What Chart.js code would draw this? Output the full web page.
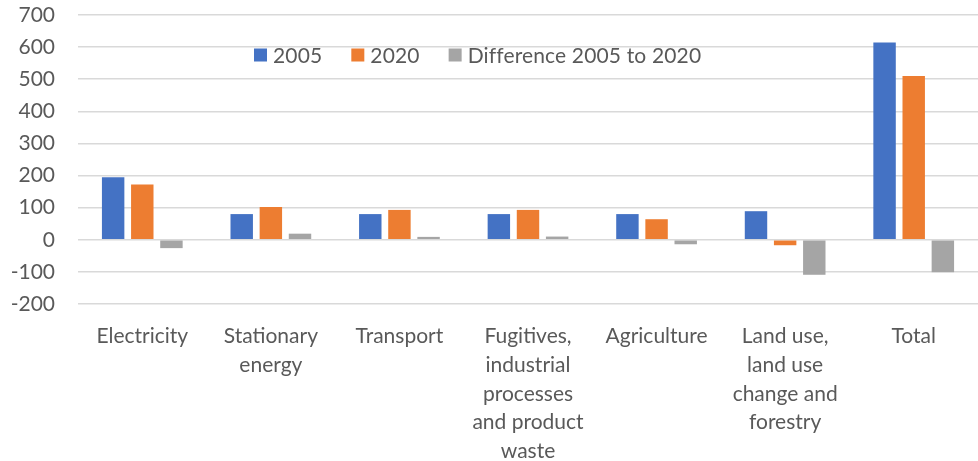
<!DOCTYPE html>
<html>
<head>
<meta charset="utf-8">
<script src="https://cdn.jsdelivr.net/npm/chart.js@4.4.0/dist/chart.umd.min.js"></script>
<style>
  html, body { margin: 0; padding: 0; background: #fff; }
  #wrap { width: 978px; height: 461px; position: relative; }
</style>
</head>
<body>
<div id="wrap"><canvas id="myChart"></canvas></div>
<script>
var categories = [
  "Electricity",
  ["Stationary", "energy"],
  "Transport",
  ["Fugitives,", "industrial", "processes", "and product", "waste"],
  "Agriculture",
  ["Land use,", "land use", "change and", "forestry"],
  "Total"
];
var seriesNames = ["2005", "2020", "Difference 2005 to 2020"];
var values2005 = [195, 80, 80, 80, 80, 89, 614];
var values2020 = [172, 102, 93, 93, 64, -17, 510];
var valuesDiff = [-26, 19, 9, 10, -14, -109, -101];
var yTicks = [-200, -100, 0, 100, 200, 300, 400, 500, 600, 700];

var colors = ["#4472C4", "#ED7D31", "#A5A5A5"];
var textColor = "#595959";
var fontFamily = "Lato, 'Open Sans', sans-serif";

// legend drawn inside the plot, like the original
var insideLegend = {
  id: "insideLegend",
  afterDraw: function(chart) {
    var ctx = chart.ctx;
    ctx.save();
    ctx.font = "21px " + fontFamily;
    ctx.letterSpacing = "0.15px";
    ctx.textBaseline = "middle";
    var x = 254, y = 55, box = 13;
    chart.data.datasets.forEach(function(ds) {
      ctx.fillStyle = ds.backgroundColor;
      ctx.fillRect(x, y - box / 2, box, box);
      ctx.fillStyle = textColor;
      ctx.fillText(ds.label, x + box + 6, y + 1);
      x += box + 6 + ctx.measureText(ds.label).width + 29;
    });
    ctx.restore();
  }
};

var ctx = document.getElementById('myChart').getContext('2d');
var chart = new Chart(ctx, {
  type: 'bar',
  data: {
    labels: categories,
    datasets: [
      { label: seriesNames[0], data: values2005, backgroundColor: colors[0] },
      { label: seriesNames[1], data: values2020, backgroundColor: colors[1] },
      { label: seriesNames[2], data: valuesDiff, backgroundColor: colors[2] }
    ]
  },
  options: {
    responsive: true,
    maintainAspectRatio: false,
    animation: false,
    layout: { padding: { top: 15, right: 0, bottom: 0, left: 0 } },
    datasets: {
      bar: { categoryPercentage: 0.68, barPercentage: 0.77 }
    },
    plugins: {
      legend: { display: false },
      tooltip: { enabled: false }
    },
    scales: {
      x: {
        grid: { display: false, drawTicks: false },
        border: { display: false },
        ticks: {
          color: textColor,
          font: { family: fontFamily, size: 21, lineHeight: 1.37 },
          padding: 18,
          maxRotation: 0,
          autoSkip: false
        },
        afterFit: function(scale) {
          scale.height = 157;
          scale.paddingLeft = 0;
          scale.paddingRight = 0;
        }
      },
      y: {
        min: -200,
        max: 700,
        afterBuildTicks: function(scale) {
          scale.ticks = yTicks.map(function(v) { return { value: v }; });
        },
        grid: { color: "#d9d9d9", lineWidth: 1.5, drawTicks: false },
        border: { display: false },
        ticks: {
          color: textColor,
          font: { family: fontFamily, size: 21 },
          padding: 23
        },
        afterFit: function(scale) {
          scale.width = 78;
          scale.paddingTop = 0;
          scale.paddingBottom = 0;
        }
      }
    }
  },
  plugins: [insideLegend]
});
</script>
</body>
</html>
